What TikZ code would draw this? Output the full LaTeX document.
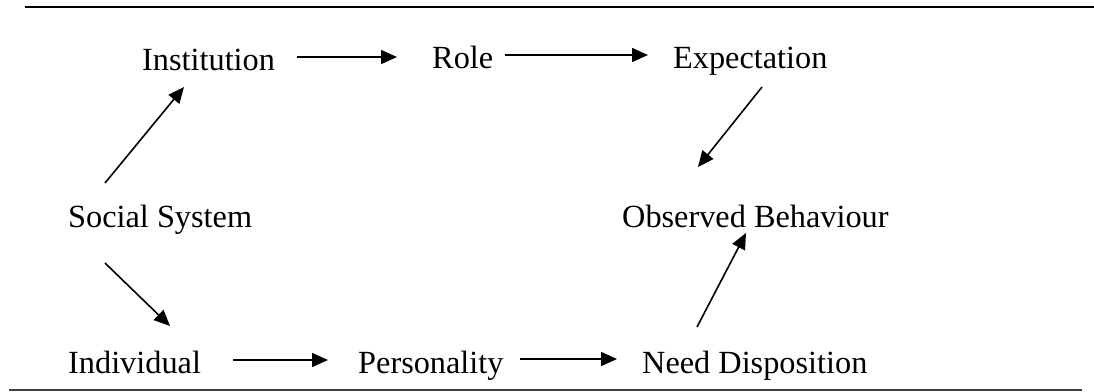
\documentclass[tikz,border=0pt]{standalone}
\usepackage{fontspec}
\setmainfont{Liberation Serif}
\usetikzlibrary{arrows.meta,calc}
\begin{document}
\begin{tikzpicture}[x=1pt,y=-1pt,
  lbl/.style={anchor=base west, inner sep=0pt, font=\fontsize{32.3pt}{38pt}\selectfont},
  arr/.style={-{Triangle[length=16pt,width=14pt]}, line width=1.6pt},
  rulefine/.style={line width=1.2pt, black!75}]
\useasboundingbox (0,0) rectangle (1094,391);
\draw[line width=2pt] (25,7) -- (1094,7);
\draw[rulefine] (9,390) -- (1082,390);

\node[lbl] (inst)   at (142,70)  {Institution};
\node[lbl] (role)   at (432,68)  {Role};
\node[lbl] (expect) at (673,68)  {Expectation};
\node[lbl] (social) at (68,227)  {Social System};
\node[lbl] (obs)    at (622,227) {Observed Behaviour};
\node[lbl] (indiv)  at (68,373)  {Individual};
\node[lbl] (pers)   at (358,373) {Personality};
\node[lbl] (need)   at (642,373) {Need Disposition};

\draw[arr] ($(social.base west)+(37,-44)$) -- ($(inst.base west)+(42,17)$);
\draw[arr] ($(social.base west)+(37,36)$) -- ($(indiv.base west)+(102,-47)$);
\draw[arr] ($(inst.base west)+(155,-13)$) -- ($(role.base west)+(-35,-11)$);
\draw[arr] ($(role.base west)+(73,-13)$) -- ($(expect.base west)+(-25,-13)$);
\draw[arr] ($(expect.base west)+(89,19)$) -- ($(obs.base west)+(76,-60)$);
\draw[arr] ($(indiv.base west)+(165,-13)$) -- ($(pers.base west)+(-30,-13)$);
\draw[arr] ($(pers.base west)+(162,-14)$) -- ($(need.base west)+(-25,-14)$);
\draw[arr] ($(need.base west)+(55,-46)$) -- ($(obs.base west)+(124,6)$);
\end{tikzpicture}
\end{document}
